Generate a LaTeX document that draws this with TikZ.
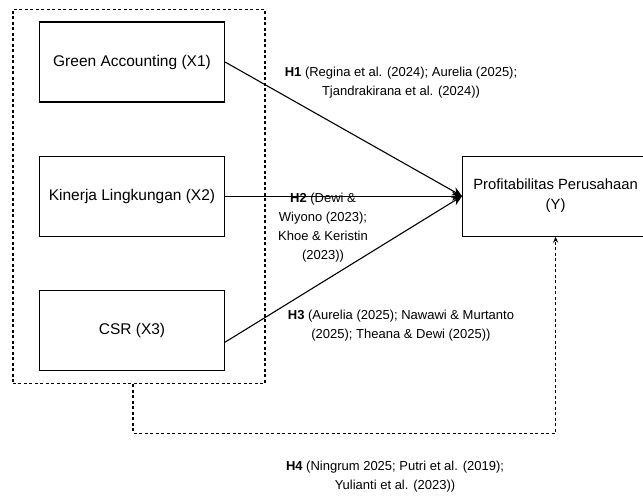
\documentclass[tikz,border=0pt]{standalone}
\usepackage{fontspec}
\setmainfont{Liberation Sans}
\usetikzlibrary{positioning, fit, arrows.meta}
\tikzset{
  >={Stealth[length=10pt, width=9pt]},
  node distance=53pt,
  var/.style={draw, line width=1.1pt, minimum width=185pt, minimum height=80pt,
    inner sep=0pt, align=center, font=\fontsize{15.5}{20}\selectfont},
  group/.style={draw, dash pattern=on 3pt off 2.5pt, line width=1.2pt, inner sep=0pt},
  hyp/.style={align=center, font=\fontsize{13}{19}\selectfont},
  path/.style={->, line width=1.1pt},
  dep/.style={-{Stealth[length=6pt, width=5pt]}, dash pattern=on 3pt off 2.5pt, line width=1.2pt},
}

\begin{document}
\begin{tikzpicture}[x=1pt, y=-1pt]
    \useasboundingbox (0,0) rectangle (643,498);

    % variables
    \node[var] (x1) at (132,62) {Green Accounting (X1)};
    \node[var, below=of x1] (x2) {Kinerja Lingkungan (X2)};
    \node[var, below=of x2] (x3) {CSR (X3)};
    \node[var, right=237pt of x2, minimum width=186pt, font=\fontsize{14.8}{20}\selectfont] (y) {Profitabilitas Perusahaan\\(Y)};
    \node[group, fit={([shift={(-26pt,12pt)}]x1.north west) ([shift={(40pt,-13pt)}]x3.south east)}] (xs) {};

    % hypotheses
    \draw[path] (x1.east) -- (y.west);
    \draw[path] (x2.east) -- (y.west);
    \draw[path] ([yshift=-12pt]x3.east) -- (y.west);
    \draw[dep] ([xshift=-6pt]xs.south) -- ++(0,49) -| (y.south);

    % labels
    \node[hyp] (h1) at (401,83) {\textbf{H1} (Regina et al. (2024); Aurelia (2025);\\Tjandrakirana et al. (2024))};
    \node[hyp] (h2) at (323,228) {\textbf{H2} (Dewi \&\\Wiyono (2023);\\Khoe \& Keristin\\(2023))};
    \node[hyp] (h3) at (401,326) {\textbf{H3} (Aurelia (2025); Nawawi \& Murtanto\\(2025); Theana \& Dewi (2025))};
    \node[hyp] (h4) at (395,477) {\textbf{H4} (Ningrum 2025; Putri et al. (2019);\\Yulianti et al. (2023))};
\end{tikzpicture}
\end{document}
